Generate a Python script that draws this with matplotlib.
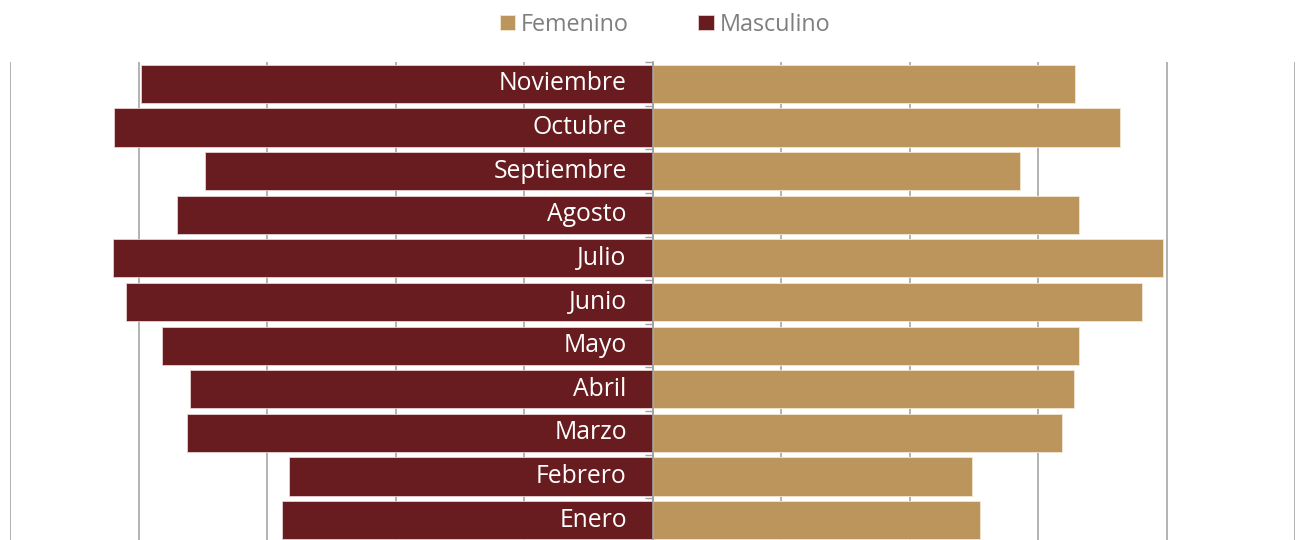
import matplotlib
matplotlib.use("Agg")
import matplotlib.pyplot as plt
import numpy as np

# datos (de abajo hacia arriba)
meses = ["Enero", "Febrero", "Marzo", "Abril", "Mayo", "Junio",
         "Julio", "Agosto", "Septiembre", "Octubre", "Noviembre"]
masculino = [2880, 2830, 3620, 3600, 3820, 4100, 4200, 3700, 3480, 4190, 3980]
femenino = [2550, 2490, 3190, 3280, 3320, 3810, 3970, 3320, 2860, 3640, 3290]

c_fem = "#bc955c"
c_mas = "#691c20"

plt.rcParams['font.family'] = ['Open Sans', 'DejaVu Sans']

fig = plt.figure(figsize=(12.96, 5.4), dpi=100)
ax = fig.add_axes([10/1296, -2/540, 1285/1296, 480/540])

y = np.arange(len(meses))
ax.barh(y, femenino, height=0.875, color=c_fem, edgecolor="#f3e6d3", linewidth=0.6,
        label="Femenino")
ax.barh(y, [-v for v in masculino], height=0.875, color=c_mas, edgecolor="#e8d0d0",
        linewidth=0.6, label="Masculino")

for yi, m in zip(y, meses):
    ax.text(-200, yi, m, color="white", ha="right", va="center", fontsize=17.8)

ax.set_xlim(-5000, 5000)
ax.set_ylim(-0.5, len(meses) - 0.5)
ax.set_xticks(np.arange(-5000, 5001, 1000))
ax.tick_params(axis="x", length=0, labelbottom=False)
ax.grid(axis="x", color="#a6a6a6", linewidth=1.2)
ax.set_axisbelow(True)

for s in ["top", "right", "bottom"]:
    ax.spines[s].set_visible(False)
ax.spines["left"].set_position(("data", 0))
ax.spines["left"].set_color("#a0a0a0")
ax.spines["left"].set_linewidth(1.2)
ax.set_yticks(np.arange(-0.5, len(meses), 1.0))
ax.tick_params(axis="y", length=6, width=1, color="#a0a0a0", direction="out", labelleft=False)

fig.legend(loc="upper center", bbox_to_anchor=(0.513, 1.015), ncol=2, frameon=False,
           fontsize=16.8, labelcolor="#7f7f7f", handlelength=0.65, handleheight=0.65,
           handletextpad=0.25, columnspacing=3.0)

fig.savefig("out.png", dpi=100)
